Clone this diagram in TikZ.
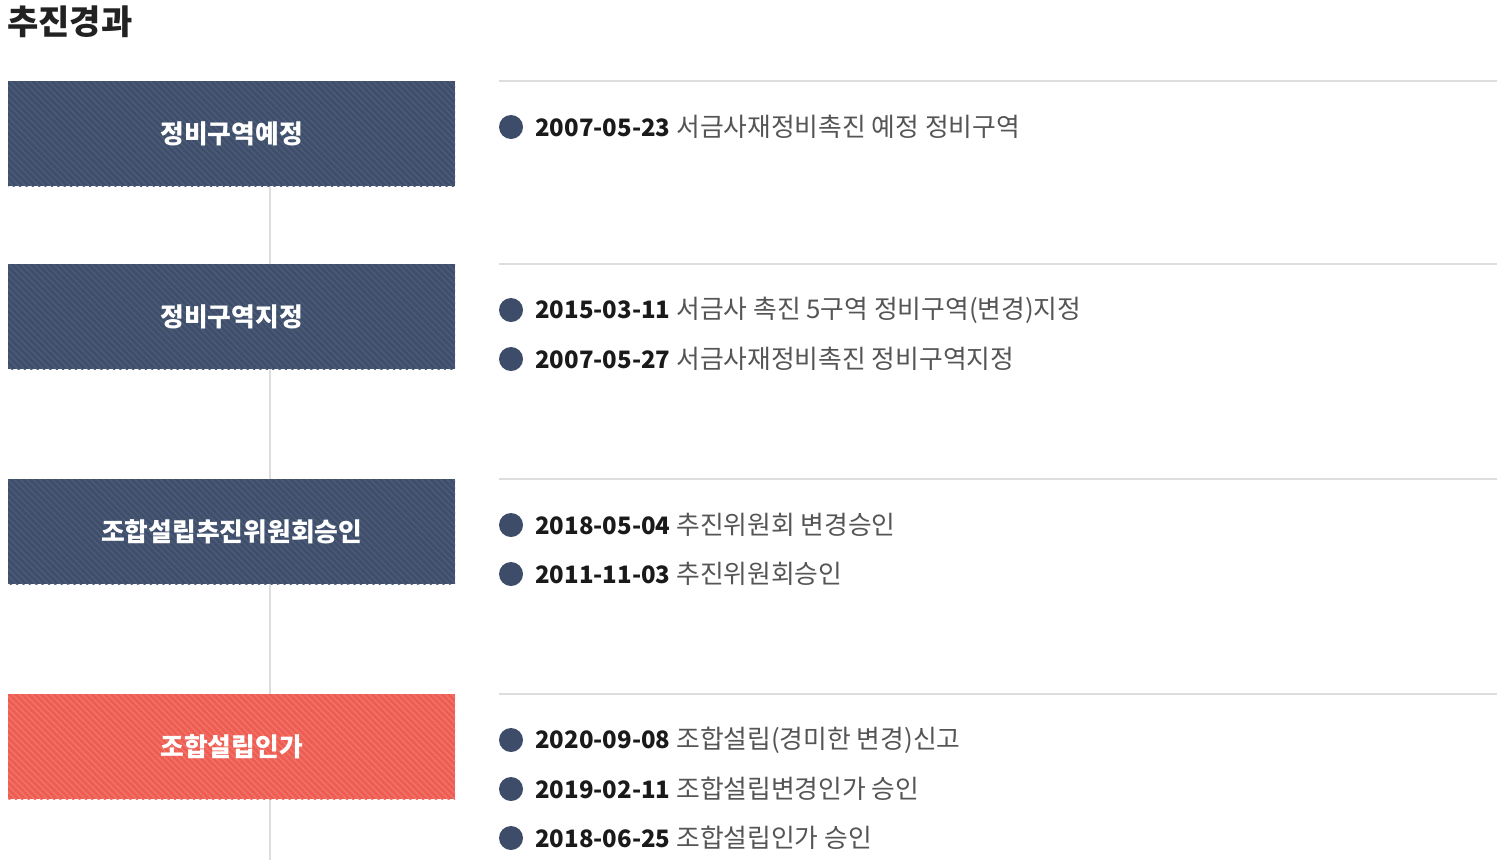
\documentclass[tikz,border=0pt]{standalone}
\usepackage{fontspec}
\setmainfont{Noto Sans CJK KR}
\usetikzlibrary{patterns.meta}
\definecolor{navybox}{HTML}{3E4E6B}
\definecolor{navystripe}{HTML}{4C5C78}
\definecolor{redbox}{HTML}{EE5D52}
\definecolor{redstripe}{HTML}{F2736A}
\definecolor{dotcol}{HTML}{3D4C68}
\definecolor{linecol}{HTML}{DDDDDD}
\definecolor{datecol}{HTML}{1A1A1A}
\definecolor{desccol}{HTML}{555555}
\definecolor{titlecol}{HTML}{222222}
\begin{document}
\begin{tikzpicture}[x=1pt,y=-1pt,
  stage/.style={minimum width=447pt, minimum height=105pt, inner sep=0pt, anchor=north west,
    font=\fontsize{25.8}{26}\selectfont\bfseries, text=white},
  navystage/.style={stage, fill=navybox, postaction={pattern={Lines[angle=-45, distance=4.5pt, line width=1.4pt]}, pattern color=navystripe}},
  redstage/.style={stage, fill=redbox, postaction={pattern={Lines[angle=-45, distance=4.5pt, line width=1.4pt]}, pattern color=redstripe}},
  dot/.style={circle, fill=dotcol, minimum size=24pt, inner sep=0pt},
  item/.style={anchor=west, inner sep=0pt, font=\fontsize{25.8}{26}\selectfont, text=desccol},
  sep/.style={draw=linecol, line width=1.5pt},
  spine/.style={draw=linecol, line width=1.5pt}
]
\useasboundingbox[fill=white] (0,0) rectangle (1509,860);
\newcommand{\dt}[1]{{\fontsize{24}{24}\selectfont\bfseries\color{datecol}#1}}

\node[anchor=north west, inner sep=0pt, font=\fontsize{34}{34}\selectfont\bfseries, text=titlecol] (title) at (7,6) {추진경과};

% spine (behind boxes)
\coordinate (s1a) at (270,186);
\coordinate (s2a) at (270,264);
\coordinate (s2b) at (270,369);
\coordinate (s3a) at (270,479);
\coordinate (s3b) at (270,584);
\coordinate (s4a) at (270,694);
\coordinate (s4b) at (270,799);
\coordinate (end) at (270,860);
\draw[spine] (s1a) -- (s2a);
\draw[spine] (s2b) -- (s3a);
\draw[spine] (s3b) -- (s4a);
\draw[spine] (s4b) -- (end);

% stage boxes
\node[navystage] (b1) at (8,81) {정비구역예정};
\node[navystage] (b2) at (8,264) {정비구역지정};
\node[navystage] (b3) at (8,479) {조합설립추진위원회승인};
\node[redstage] (b4) at (8,694) {조합설립인가};

% separator lines
\draw[sep] (499,81) -- (1497,81);
\draw[sep] (499,264) -- (1497,264);
\draw[sep] (499,479) -- (1497,479);
\draw[sep] (499,694) -- (1497,694);

% items
\node[dot] (d11) at (511,127) {};
\node[item] (t11) at (535,127) {\dt{2007-05-23} 서금사재정비촉진 예정 정비구역};

\node[dot] (d21) at (511,310) {};
\node[item] (t21) at (535,310) {\dt{2015-03-11} 서금사 촉진 5구역 정비구역(변경)지정};
\node[dot] (d22) at (511,359) {};
\node[item] (t22) at (535,359) {\dt{2007-05-27} 서금사재정비촉진 정비구역지정};

\node[dot] (d31) at (511,525) {};
\node[item] (t31) at (535,525) {\dt{2018-05-04} 추진위원회 변경승인};
\node[dot] (d32) at (511,574) {};
\node[item] (t32) at (535,574) {\dt{2011-11-03} 추진위원회승인};

\node[dot] (d41) at (511,740) {};
\node[item] (t41) at (535,740) {\dt{2020-09-08} 조합설립(경미한 변경)신고};
\node[dot] (d42) at (511,789) {};
\node[item] (t42) at (535,789) {\dt{2019-02-11} 조합설립변경인가 승인};
\node[dot] (d43) at (511,838) {};
\node[item] (t43) at (535,838) {\dt{2018-06-25} 조합설립인가 승인};
\end{tikzpicture}
\end{document}
